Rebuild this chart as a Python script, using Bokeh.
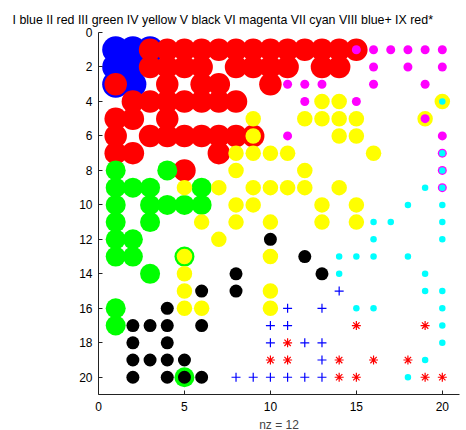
from bokeh.plotting import figure
from bokeh.models import Range1d, FixedTicker
from bokeh.embed import file_html
from bokeh.resources import INLINE

title_text = "I blue II red III green IV yellow V black VI magenta VII cyan VIII blue+ IX red*"
x_label = "nz = 12"
x_ticks = [0, 5, 10, 15, 20]
y_ticks = [0, 2, 4, 6, 8, 10, 12, 14, 16, 18, 20]

# (column, row) of the nonzeros of each part
blue_cells = [(1, 1), (2, 1), (3, 1), (1, 2), (2, 2), (1, 3), (2, 3)]
red_cells = [(3, 1), (4, 1), (5, 1), (6, 1), (7, 1), (8, 1), (9, 1), (10, 1), (11, 1), (12, 1), (13, 1), (14, 1), (15, 1),
             (3, 2), (4, 2), (5, 2), (6, 2), (8, 2), (9, 2), (10, 2), (11, 2), (13, 2), (14, 2),
             (1, 3), (4, 3), (6, 3), (7, 3), (10, 3),
             (2, 4), (3, 4), (4, 4), (5, 4), (6, 4), (7, 4), (8, 4),
             (1, 5), (2, 5), (4, 5),
             (1, 6), (3, 6), (4, 6), (5, 6), (6, 6), (7, 6), (8, 6), (9, 6),
             (1, 7), (2, 7), (7, 7),
             (5, 8)]
green_cells = [(1, 8), (4, 8), (1, 9), (2, 9), (3, 9), (6, 9), (1, 10), (3, 10), (4, 10), (5, 10), (6, 10),
               (1, 11), (3, 11), (1, 12), (2, 12), (1, 13), (2, 13), (5, 13), (3, 14), (1, 16), (1, 17), (5, 20)]
yellow_cells = [(13, 4), (14, 4), (20, 4), (9, 5), (12, 5), (13, 5), (14, 5), (15, 5), (19, 5), (9, 6), (14, 6), (15, 6),
                (8, 7), (9, 7), (10, 7), (11, 7), (16, 7), (8, 8), (12, 8),
                (5, 9), (7, 9), (9, 9), (10, 9), (11, 9), (12, 9), (14, 9), (8, 10), (9, 10), (13, 10), (15, 10),
                (6, 11), (8, 11), (10, 11), (13, 11), (15, 11), (7, 12), (5, 13), (10, 13), (5, 14),
                (5, 15), (10, 15), (5, 16), (6, 16), (10, 16)]
black_cells = [(10, 12), (12, 13), (8, 14), (13, 14), (6, 15), (8, 15), (4, 16), (2, 17), (3, 17), (4, 17), (6, 17),
               (2, 18), (4, 18), (2, 19), (3, 19), (4, 19), (5, 19), (2, 20), (4, 20), (5, 20), (6, 20)]
magenta_cells = [(15, 1), (16, 1), (17, 1), (18, 1), (19, 1), (20, 1), (16, 2), (18, 2), (20, 2),
                 (11, 3), (12, 3), (13, 3), (16, 3), (19, 3), (12, 4), (15, 4), (19, 5), (11, 6), (20, 6),
                 (20, 7), (20, 8), (20, 9)]
cyan_cells = [(20, 4), (20, 7), (20, 8), (20, 9), (19, 9), (18, 10), (20, 10), (16, 11), (17, 11), (20, 11),
              (16, 12), (20, 12), (14, 13), (15, 13), (16, 13), (18, 13), (14, 14), (19, 14), (19, 15), (20, 15),
              (15, 16), (16, 16), (20, 16), (20, 17), (20, 18), (19, 19), (18, 20)]
blueplus_cells = [(14, 15), (11, 16), (13, 16), (10, 17), (11, 17), (10, 18), (12, 18), (13, 18), (13, 19),
                  (8, 20), (9, 20), (10, 20), (11, 20), (12, 20), (13, 20)]
redstar_cells = [(15, 17), (19, 17), (11, 18), (10, 19), (11, 19), (14, 19), (16, 19), (18, 19),
                 (14, 20), (15, 20), (19, 20), (20, 20)]

FONT = "Liberation Sans"

p = figure(frame_width=361, frame_height=362, output_backend="svg", toolbar_location=None,
           x_range=Range1d(0, 21), y_range=Range1d(21, 0),
           min_border_left=98, min_border_right=7, min_border_top=32, min_border_bottom=36)
p.background_fill_color = "white"
p.border_fill_color = "white"
p.outline_line_color = None
p.grid.visible = False

p.title.text = title_text
p.title.align = "left"
p.title.offset = -86
p.title.text_font = FONT
p.title.text_font_size = "12.4px"
p.title.text_font_style = "normal"
p.title.text_color = "black"
p.title.standoff = 11

for ax in (p.xaxis[0], p.yaxis[0]):
    ax.major_tick_in = 4
    ax.major_tick_out = 0
    ax.minor_tick_in = 0
    ax.minor_tick_out = 0
    ax.axis_line_color = "#222222"
    ax.major_tick_line_color = "#222222"
    ax.major_label_text_font = FONT
    ax.major_label_text_font_size = "12px"
    ax.major_label_text_color = "black"
    ax.axis_label_text_font = FONT
    ax.axis_label_text_font_size = "12px"
    ax.axis_label_text_font_style = "normal"

p.xaxis.ticker = FixedTicker(ticks=x_ticks)
p.yaxis.ticker = FixedTicker(ticks=y_ticks)
p.xaxis.major_label_standoff = 7
p.yaxis.major_label_standoff = 6
p.xaxis.axis_label = x_label
p.xaxis.axis_label_standoff = 4


def xy(cells):
    return [c[0] for c in cells], [c[1] for c in cells]


layers = [
    (blue_cells, "#0000FF", 27),
    (red_cells, "#FF0000", 22.5),
    (green_cells, "#00FF00", 20),
    (yellow_cells, "#FFFF00", 15.5),
    (black_cells, "#000000", 13),
    (magenta_cells, "#FF00FF", 9),
    (cyan_cells, "#00FFFF", 6.5),
]
for cells, color, size in layers:
    xs, ys = xy(cells)
    p.scatter(xs, ys, marker="circle", size=size, fill_color=color, line_color=None)

xs, ys = xy(blueplus_cells)
p.scatter(xs, ys, marker="cross", size=9, line_color="#0000FF", line_width=1.2)
xs, ys = xy(redstar_cells)
p.scatter(xs, ys, marker="asterisk", size=9, line_color="#FF0000", line_width=1.2)

open("out.html", "w").write(file_html(p, INLINE))
